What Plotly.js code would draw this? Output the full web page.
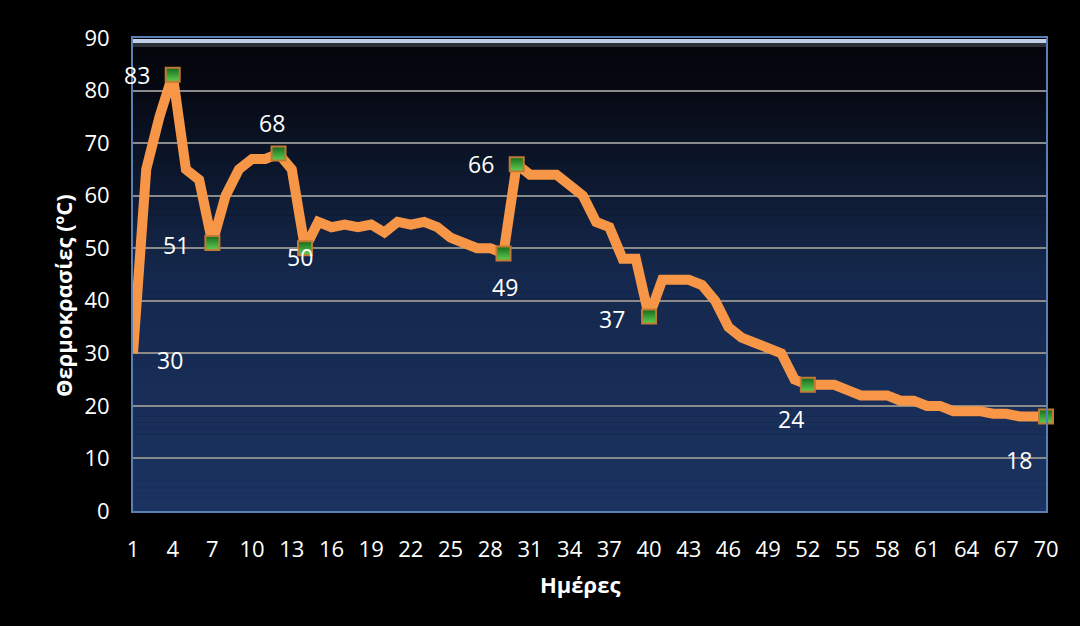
<!DOCTYPE html>
<html>
<head>
<meta charset="utf-8">
<script src="https://cdn.plot.ly/plotly-3.0.1.min.js"></script>
<style>
  html, body { margin: 0; padding: 0; background: #000; }
  #chart { width: 1080px; height: 626px; }
</style>
</head>
<body>
<div id="chart"></div>
<script>
// Daily temperature readings (°C)
const days = [1, 2, 3, 4, 5, 6, 7, 8, 9, 10,
              11, 12, 13, 14, 15, 16, 17, 18, 19, 20,
              21, 22, 23, 24, 25, 26, 27, 28, 29, 30,
              31, 32, 33, 34, 35, 36, 37, 38, 39, 40,
              41, 42, 43, 44, 45, 46, 47, 48, 49, 50,
              51, 52, 53, 54, 55, 56, 57, 58, 59, 60,
              61, 62, 63, 64, 65, 66, 67, 68, 69, 70];
const temps = [30, 65, 75, 83, 65, 63, 51, 60, 65, 67,
               67, 68, 65, 50, 55, 54, 54.5, 54, 54.5, 53,
               55, 54.5, 55, 54, 52, 51, 50, 50, 49, 66,
               64, 64, 64, 62, 60, 55, 54, 48, 48, 37,
               44, 44, 44, 43, 40, 35, 33, 32, 31, 30,
               25, 24, 24, 24, 23, 22, 22, 22, 21, 21,
               20, 20, 19, 19, 19, 18.5, 18.5, 18, 18, 18];

// Days whose readings are labelled, and those that carry a marker
const labelledDays = [1, 4, 7, 12, 14, 29, 30, 40, 52, 70];
const markedDays = [4, 7, 12, 14, 29, 30, 40, 52, 70];

// X tick labels (every third day)
const tickDays = [1, 4, 7, 10, 13, 16, 19, 22, 25, 28, 31, 34, 37, 40, 43, 46, 49, 52, 55, 58, 61, 64, 67, 70];
const tickLabels = ['1', '4', '7', '10', '13', '16', '19', '22', '25', '28', '31', '34', '37', '40', '43', '46', '49', '52', '55', '58', '61', '64', '67', '70'];

const yTitle = 'Θερμοκρασίες (ºC)';
const xTitle = 'Ημέρες';

// Label offsets (pixels) relative to each labelled point
const labelOffset = {
  1: [37, -7], 4: [-36, 0], 7: [-36, -2], 12: [-7, 31], 14: [-5, -9],
  29: [2, -34], 30: [-36, 0], 40: [-37, -2], 52: [-17, -34], 70: [-27, -44]
};

const valueOf = d => temps[days.indexOf(d)];

// Plot area geometry in page pixels
const M = { l: 133, r: 34, t: 38, b: 115 };
const H = 626 - M.t - M.b;
const pxToPaper = py => (626 - M.b - py) / H;

// Vertical background gradient for the plot area, built from thin bands
function lerp(a, b, t) { return a + (b - a) * t; }
function mix(c1, c2, t) {
  return 'rgb(' + [0, 1, 2].map(i => Math.round(lerp(c1[i], c2[i], t))).join(',') + ')';
}
const gradStops = [
  [0.00, [3, 5, 9]],
  [0.10, [6, 9, 17]],
  [0.30, [13, 24, 47]],
  [0.50, [21, 40, 77]],
  [1.00, [27, 51, 97]]
];
function gradColor(f) {
  for (let i = 0; i < gradStops.length - 1; i++) {
    const [f0, c0] = gradStops[i], [f1, c1] = gradStops[i + 1];
    if (f >= f0 && f <= f1) return mix(c0, c1, (f - f0) / (f1 - f0));
  }
  const last = gradStops[gradStops.length - 1][1];
  return mix(last, last, 0);
}
const shapes = [];
const bands = 80;
for (let i = 0; i < bands; i++) {
  const fTop = i / bands, fBot = (i + 1) / bands;
  shapes.push({
    type: 'rect', xref: 'paper', yref: 'paper', layer: 'below',
    x0: 0, x1: 1, y0: 1 - fBot - 0.001, y1: 1 - fTop,
    line: { width: 0 }, fillcolor: gradColor((fTop + fBot) / 2)
  });
}
// Highlight strip just under the top edge
shapes.push({
  type: 'rect', xref: 'paper', yref: 'paper', layer: 'below',
  x0: 0, x1: 1, y0: pxToPaper(47), y1: pxToPaper(43),
  line: { width: 0 }, fillcolor: '#2d3036'
});
shapes.push({
  type: 'rect', xref: 'paper', yref: 'paper', layer: 'below',
  x0: 0, x1: 1, y0: pxToPaper(43), y1: pxToPaper(39),
  line: { width: 0 }, fillcolor: '#c3cfe9'
});

const lineTrace = {
  x: days, y: temps, type: 'scatter', mode: 'lines',
  line: { color: '#f79646', width: 10 },
  hoverinfo: 'skip', cliponaxis: false
};
const markerTrace = {
  x: markedDays, y: markedDays.map(valueOf), type: 'scatter', mode: 'markers',
  marker: {
    symbol: 'square', size: 14, color: '#16691b',
    gradient: { type: 'vertical', color: '#5fd052' },
    line: { color: '#c07a34', width: 2 }
  },
  hoverinfo: 'skip', cliponaxis: false
};

const annotations = labelledDays.map(d => ({
  x: d, y: valueOf(d), xref: 'x', yref: 'y',
  text: String(valueOf(d)), showarrow: false,
  xshift: labelOffset[d][0], yshift: labelOffset[d][1],
  font: { family: 'Open Sans, sans-serif', size: 23, color: '#ffffff' }
}));
annotations.push({
  xref: 'paper', yref: 'paper', x: (580 - M.l) / (1080 - M.l - M.r), y: 0,
  yshift: -90, text: '<b>' + xTitle + '</b>', showarrow: false,
  font: { family: 'Open Sans, sans-serif', size: 22, color: '#ffffff' }
});
annotations.push({
  xref: 'paper', yref: 'paper', x: 0, xshift: 46 - M.l, y: pxToPaper(296),
  text: '<b>' + yTitle + '</b>', textangle: -90, showarrow: false,
  font: { family: 'Open Sans, sans-serif', size: 22, color: '#ffffff' }
});

const tickFont = { family: 'Open Sans, sans-serif', size: 22, color: '#ffffff' };

const layout = {
  width: 1080, height: 626,
  paper_bgcolor: '#000000', plot_bgcolor: 'rgba(0,0,0,0)',
  margin: M, showlegend: false,
  xaxis: {
    range: [1, 70], tickvals: tickDays, ticktext: tickLabels,
    showgrid: false, zeroline: false,
    showline: true, mirror: true, linecolor: '#5a7fb4', linewidth: 2,
    ticks: 'outside', ticklen: 18, tickcolor: 'rgba(0,0,0,0)',
    tickfont: tickFont, fixedrange: true
  },
  yaxis: {
    range: [0, 90], tickmode: 'linear', tick0: 0, dtick: 10,
    showgrid: true, gridcolor: '#8a8a8a', gridwidth: 2, zeroline: false,
    showline: true, mirror: true, linecolor: '#5a7fb4', linewidth: 2,
    ticks: 'outside', ticklen: 17, tickcolor: 'rgba(0,0,0,0)',
    tickfont: tickFont, fixedrange: true
  },
  shapes: shapes,
  annotations: annotations
};

Plotly.newPlot('chart', [lineTrace, markerTrace], layout, { displayModeBar: false, staticPlot: true });
</script>
</body>
</html>
